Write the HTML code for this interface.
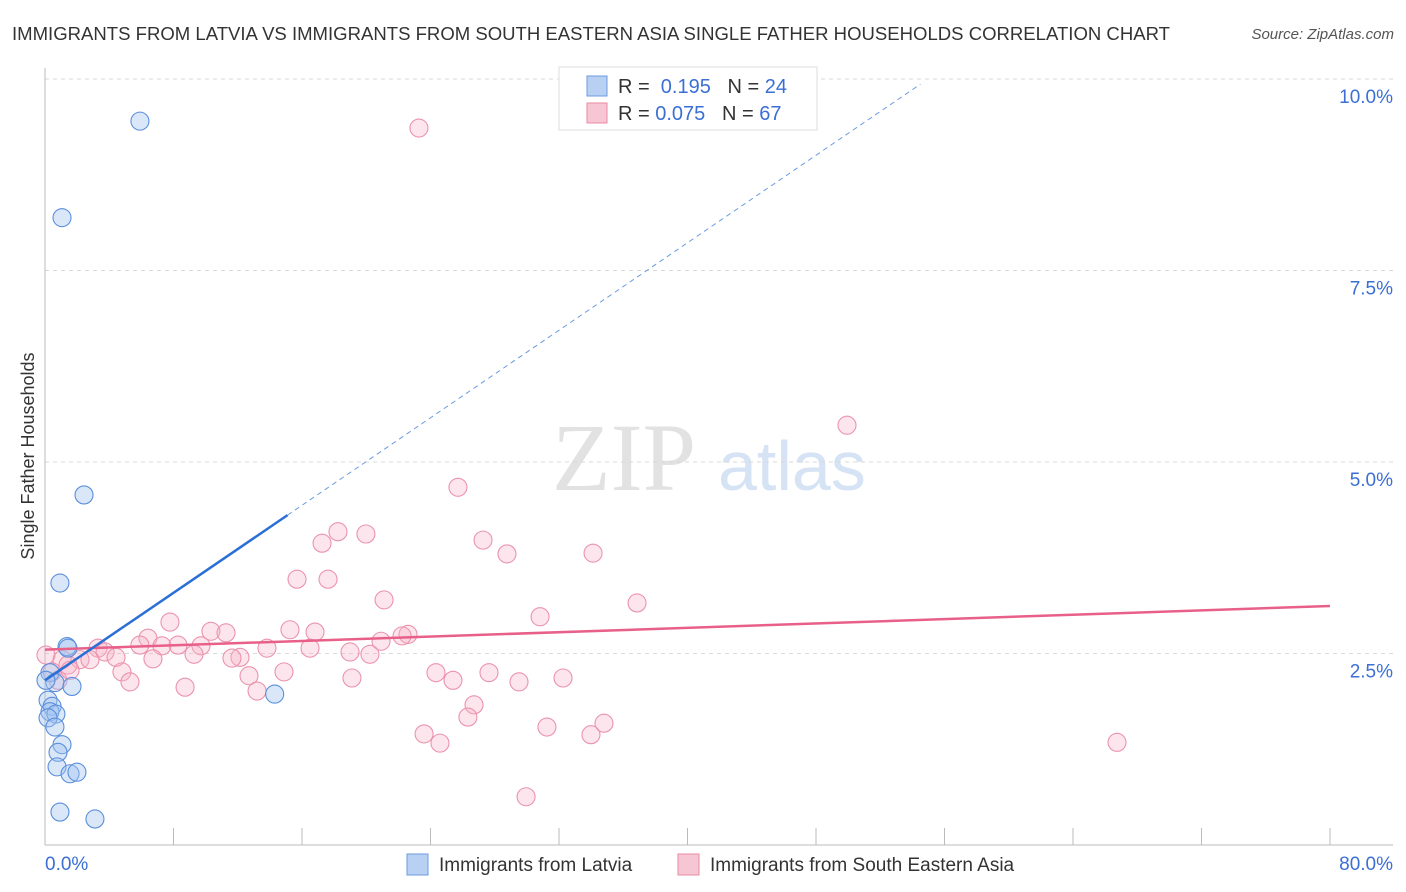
<!DOCTYPE html>
<html><head><meta charset="utf-8"><style>
body{margin:0;background:#fff;font-family:"Liberation Sans",sans-serif;}
svg{display:block}
</style></head><body>
<svg id="chart" width="1406" height="892" viewBox="0 0 1406 892" xmlns="http://www.w3.org/2000/svg">
<text x="12" y="40" font-size="18" fill="#333" textLength="1158" lengthAdjust="spacingAndGlyphs">IMMIGRANTS FROM LATVIA VS IMMIGRANTS FROM SOUTH EASTERN ASIA SINGLE FATHER HOUSEHOLDS CORRELATION CHART</text>
<text x="1394" y="39" font-size="15" fill="#555" font-style="italic" text-anchor="end">Source: ZipAtlas.com</text>
<text x="552" y="490" font-size="96" fill="#e2e2e2" font-family="Liberation Serif,serif">ZIP</text>
<text x="718" y="490" font-size="70" fill="#d6e3f5">atlas</text>
<g id="grid"></g>
<g id="axes"></g>
<g id="marks"></g>
<text transform="translate(34,456) rotate(-90)" font-size="18" fill="#333" text-anchor="middle">Single Father Households</text>
<g>
<rect x="559" y="67" width="258" height="63" fill="#fff" stroke="#ddd"/>
<rect x="587" y="76" width="20" height="20" fill="#b8d0f2" stroke="#6b9be0"/>
<text x="618" y="93" font-size="20" fill="#333">R = <tspan fill="#3b6fd4">&#160;0.195</tspan>&#160;&#160;&#160;N = <tspan fill="#3b6fd4">24</tspan></text>
<rect x="587" y="103" width="20" height="20" fill="#f7c6d4" stroke="#e88aa6"/>
<text x="618" y="120" font-size="20" fill="#333">R = <tspan fill="#3b6fd4">0.075</tspan>&#160;&#160;&#160;N = <tspan fill="#3b6fd4">67</tspan></text>
</g>
<g>
<rect x="407" y="854" width="21" height="21" fill="#b8d0f2" stroke="#6b9be0"/>
<text x="439" y="871" font-size="19" fill="#333">Immigrants from Latvia</text>
<rect x="678" y="854" width="21" height="21" fill="#f7c6d4" stroke="#e88aa6"/>
<text x="710" y="871" font-size="19" fill="#333">Immigrants from South Eastern Asia</text>
</g>
</svg>
<script>
const blueX=[5.91,1.06,2.43,0.93,1.37,1.43,0.31,0.62,1.68,0.19,0.44,0.31,0.68,0.19,0.62,1.06,0.81,0.75,1.56,1.99,0.93,3.11,14.3,0.06];
const blueY=[9.45,8.19,4.57,3.42,2.59,2.57,2.25,2.12,2.07,1.89,1.81,1.74,1.71,1.66,1.54,1.31,1.21,1.02,0.93,0.95,0.43,0.34,1.97,2.15];
const pinkPx=[419,847,458,338,366,322,483,507,593,297,328,384,637,170,540,290,315,211,226,148,408,402,381,178,267,98,201,310,162,140,105,350,370,194,240,232,62,80,90,116,153,46,68,436,489,122,284,249,352,453,563,519,130,185,257,474,468,547,604,424,591,440,1117,526,52,58,70];
const pinkPy=[128,425,487,532,534,543,540,554,553,579,579,600,603,622,617,630,632,631,633,638,634,636,641,645,648,648,646,648,646,645,652,652,654,654,657,658,660,660,660,657,659,655,665,673,673,672,672,676,678,680,678,682,682,687,691,705,717,727,723,734,735,743,742,797,672,680,670];
// pink values (percent) derived from reading the picture
const pinkX=pinkPx.map(p=>+((p-45)*80/1285).toFixed(2));
const pinkY=pinkPy.map(p=>+((845-p)/76.6).toFixed(2));
const yTicks=[2.5,5,7.5,10];
const yTickLabels=["2.5%","5.0%","7.5%","10.0%"];
const blueLine=[2.15,0.1428,15.1,54.5];
const pinkLine=[2.55,3.12];
const NS="http://www.w3.org/2000/svg";
const X=v=>45+v/80*1285, Y=v=>845-v*76.6;
function mk(tag,attrs,parent){const e=document.createElementNS(NS,tag);for(const k in attrs)e.setAttribute(k,attrs[k]);document.getElementById(parent).appendChild(e);return e;}
yTicks.forEach((t,i)=>{
 const l=mk('line',{x1:45,x2:1393,y1:Y(t),y2:Y(t),stroke:'#d8d8d8','stroke-dasharray':'4,4'},'grid');
 
 
 const tx=mk('text',{x:1393,y:Y(t)+24,'font-size':19,fill:'#3b6fd4','text-anchor':'end'},'grid');
 tx.textContent=yTickLabels[i];
 
 
});
let a=mk('line',{x1:45,x2:45,y1:68,y2:845,stroke:'#bbb'},'axes');


a=mk('line',{x1:45,x2:1393,y1:845,y2:845,stroke:'#bbb'},'axes');


for(let i=1;i<=10;i++){const t=mk('line',{x1:X(i*8),x2:X(i*8),y1:828,y2:845,stroke:'#bbb'},'axes');
 
 }
let t0=mk('text',{x:45,y:870,'font-size':19,fill:'#3b6fd4'},'axes');t0.textContent='0.0%';


let t1=mk('text',{x:1393,y:870,'font-size':19,fill:'#3b6fd4','text-anchor':'end'},'axes');t1.textContent='80.0%';


pinkX.forEach((x,i)=>{const c=mk('circle',{cx:X(x),cy:Y(pinkY[i]),r:9,fill:'rgba(247,180,200,0.35)',stroke:'#eb93ad','stroke-width':1.1},'marks');
 
 });
blueX.forEach((x,i)=>{const c=mk('circle',{cx:X(x),cy:Y(blueY[i]),r:9,fill:'rgba(160,195,240,0.4)',stroke:'#5b8fdc','stroke-width':1.1},'marks');
 
 });
let L=mk('line',{x1:X(0),y1:Y(pinkLine[0]),x2:X(80),y2:Y(pinkLine[1]),stroke:'#e8608a','stroke-width':2.5},'marks');


L=mk('line',{x1:X(0),y1:Y(blueLine[0]),x2:X(blueLine[2]),y2:Y(blueLine[0]+blueLine[1]*blueLine[2]),stroke:'#2a6fd6','stroke-width':2.5},'marks');


L=mk('line',{x1:X(blueLine[2]),y1:Y(blueLine[0]+blueLine[1]*blueLine[2]),x2:X(blueLine[3]),y2:Y(blueLine[0]+blueLine[1]*blueLine[3]),stroke:'#6b9be0','stroke-width':1,'stroke-dasharray':'5,4'},'marks');


</script>
</body></html>
